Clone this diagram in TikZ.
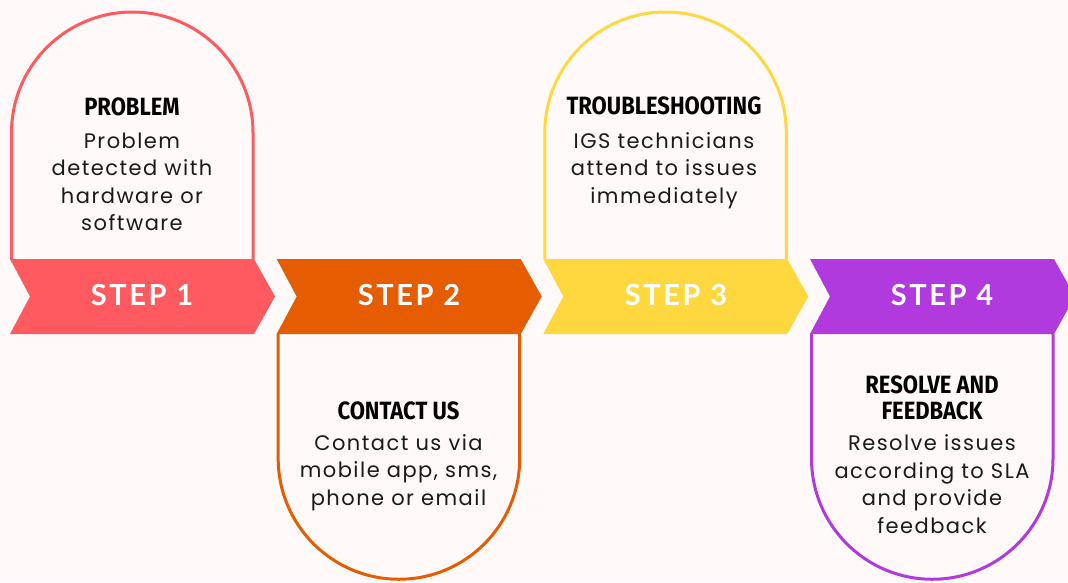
\documentclass[tikz,border=0pt]{standalone}
\usepackage{fontspec}
\newfontfamily\bodyfont[LetterSpace=7]{Poppins}
\newfontfamily\titlefont[FakeStretch=0.88]{Fira Sans}
\newfontfamily\stepfont[LetterSpace=9]{Lato}
\definecolor{bg}{HTML}{FFFAF9}
\definecolor{cred}{HTML}{FF5A5F}
\definecolor{corange}{HTML}{E65C00}
\definecolor{cyellow}{HTML}{FFD83F}
\definecolor{cpurple}{HTML}{B03ADE}
\definecolor{ink}{HTML}{1A1A1A}
\begin{document}
\begin{tikzpicture}[x=1pt,y=-1pt,
  archline/.style={line width=3pt},
  steplabel/.style={text=white,font=\stepfont\bfseries\fontsize{29}{29}\selectfont,anchor=base,inner sep=0pt},
  boxtitle/.style={text=black,font=\titlefont\bfseries\fontsize{25}{26}\selectfont,anchor=base,align=center,inner sep=0pt},
  boxbody/.style={text=ink,font=\bodyfont\fontsize{21}{27.5}\selectfont,anchor=base,align=center,inner sep=0pt}]
\fill[bg] (0,0) rectangle (1068,582);
\useasboundingbox (0,0) rectangle (1068,582);
\clip (0,0) rectangle (1068,582);
% arches
\draw[archline,cred] (11.5,259) -- (11.5,132.75) arc[start angle=180,end angle=360,radius=120.75] -- (253,259);
\draw[archline,corange] (278.2,334) -- (278.2,458.5) arc[start angle=180,end angle=0,radius=120.75] -- (519.7,334);
\draw[archline,cyellow] (544.8,259) -- (544.8,132.75) arc[start angle=180,end angle=360,radius=120.75] -- (786.3,259);
\draw[archline,cpurple] (811.5,334) -- (811.5,458.5) arc[start angle=180,end angle=0,radius=120.75] -- (1053,334);
% chevrons
\foreach \L/\c in {10/cred,276.7/corange,543.3/cyellow,810/cpurple}{
  \fill[\c] (\L,259) -- (\L+244,259) -- (\L+265,296.5) -- (\L+244,334) -- (\L,334) -- (\L+20,296.5) -- cycle;
}
\node[steplabel] (s1) at (142,305) {STEP 1};
\node[steplabel] (s2) at (409,305) {STEP 2};
\node[steplabel] (s3) at (676,305) {STEP 3};
\node[steplabel] (s4) at (942,305) {STEP 4};
% texts (base anchor = baseline of the last line)
\node[boxtitle] (t1) at (132,115) {PROBLEM};
\node[boxbody] (b1) at (132,230.5) {Problem\\detected with\\hardware or\\software};
\node[boxtitle] (t2) at (398.5,419) {CONTACT US};
\node[boxbody] (b2) at (398.5,505) {Contact us via\\mobile app, sms,\\phone or email};
\node[boxtitle] (t3) at (664,114) {TROUBLESHOOTING};
\node[boxbody] (b3) at (664,203) {IGS technicians\\attend to issues\\immediately};
\node[boxtitle] (t4) at (932,419) {RESOLVE AND\\FEEDBACK};
\node[boxbody] (b4) at (932,533) {Resolve issues\\according to SLA\\and provide\\feedback};
\end{tikzpicture}
\end{document}
